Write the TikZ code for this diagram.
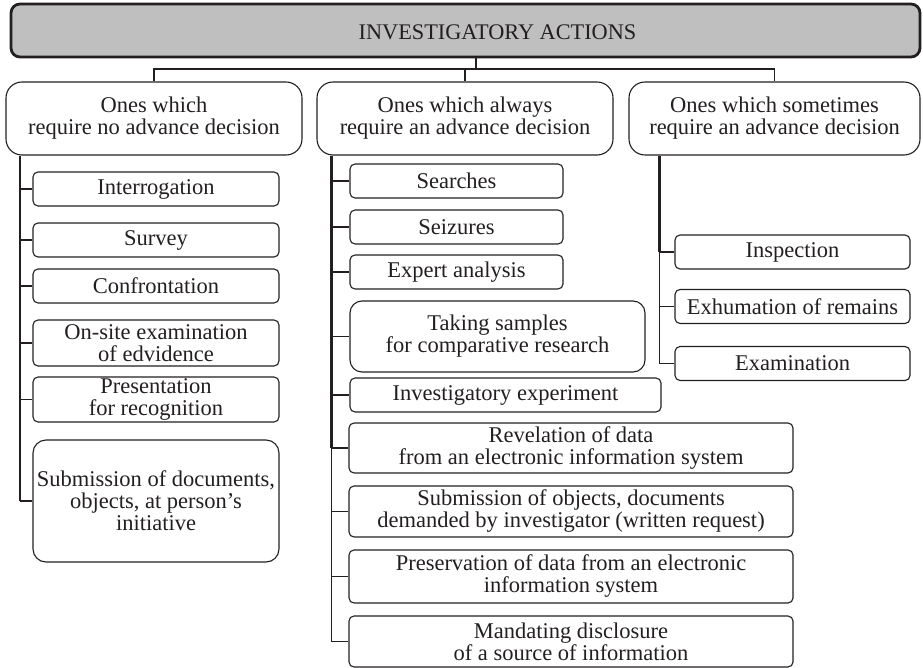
\documentclass[tikz,border=0pt]{standalone}
\usepackage{fontspec}
\setmainfont{Liberation Serif}
\definecolor{TitleGray}{RGB}{191, 191, 191}
\definecolor{InkDark}{RGB}{35, 31, 32}
\usepackage{tikz}

\begin{document}
\begin{tikzpicture}[
            x=1pt, y=-1pt,
            txt/.style={font=\fontsize{22.5}{22}\selectfont, text=InkDark, align=center, inner sep=1pt},
            action/.style={txt, draw=InkDark, line width=1.1pt, rounded corners=5pt, minimum height=34pt},
            bigaction/.style={action, rounded corners=13pt},
            groupbox/.style={txt, draw=InkDark, line width=1.1pt, rounded corners=16pt, minimum height=73pt},
            titlebox/.style={draw=InkDark, line width=2.8pt, fill=TitleGray, rounded corners=9pt, minimum width=909pt, minimum height=53pt},
            link/.style={draw=InkDark, line width=1.6pt},
            trunk/.style={draw=InkDark, line width=2.6pt},
            twig/.style={draw=InkDark, line width=1.1pt}
        ]
        \useasboundingbox (0,0) rectangle (923,668);

        % --- TITLE ---
        \node[titlebox] (title) at (465.5, 30.5) {};
        \node[txt, font=\fontsize{22.3}{22}\selectfont] (titleText) at (497.5, 32) {INVESTIGATORY ACTIONS};

        % --- GROUPS ---
        \node[groupbox, minimum width=296pt] (noDec) at (154, 118.5) {Ones which\\require no advance decision};
        \node[groupbox, minimum width=296pt] (alwaysDec) at (465, 118.5) {Ones which always\\require an advance decision};
        \node[groupbox, minimum width=291pt] (sometimesDec) at (774.5, 118.5) {Ones which sometimes\\require an advance decision};

        \coordinate (split) at (476, 69);
        \draw[link] (title.south -| split) -- (split);
        \draw[link] (noDec.north) |- (split) -| (sometimesDec.north);
        \draw[link] (alwaysDec.north |- split) -- (alwaysDec.north);

        % --- LEFT: no advance decision ---
        \node[action, minimum width=246pt] (interrogation) at (156, 189) {Interrogation};
        \node[action, minimum width=246pt] (survey) at (156, 240) {Survey};
        \node[action, minimum width=246pt] (confrontation) at (156, 286) {Confrontation};
        \node[action, minimum width=246pt, minimum height=46pt] (onsite) at (156, 343) {On-site examination\\of edvidence};
        \node[action, minimum width=246pt, minimum height=45pt] (presentation) at (156, 399.5) {Presentation\\for recognition};
        \node[bigaction, minimum width=246pt, minimum height=122pt] (submission) at (156, 501) {Submission of documents,\\objects, at person’s\\initiative};

        \coordinate (leftTrunk) at ([xshift=15pt]noDec.south west);
        \draw[trunk, line width=2pt] (leftTrunk) -- (leftTrunk |- submission.west);
        \foreach \n in {interrogation, survey, confrontation, onsite, presentation, submission}
            \draw[twig] (leftTrunk |- \n.west) -- (\n.west);

        % --- MIDDLE: always an advance decision ---
        \node[action, minimum width=213pt] (searches) at (456.5, 181) {Searches};
        \node[action, minimum width=213pt] (seizures) at (456.5, 227) {Seizures};
        \node[action, minimum width=213pt] (expert) at (456.5, 272) {Expert analysis};
        \node[bigaction, rounded corners=12pt, minimum width=295pt, minimum height=71pt] (samples) at (497.5, 336.5) {Taking samples\\for comparative research};
        \node[action, minimum width=311pt] (experiment) at (505.5, 395) {Investigatory experiment};
        \node[action, minimum width=444pt, minimum height=50pt] (revelation) at (571, 448) {Revelation of data\\from an electronic information system};
        \node[action, minimum width=444pt, minimum height=51pt] (demanded) at (571, 511.5) {Submission of objects, documents\\demanded by investigator (written request)};
        \node[action, minimum width=444pt, minimum height=53pt] (preservation) at (571, 576.5) {Preservation of data from an electronic\\information system};
        \node[action, minimum width=444pt, minimum height=51pt] (disclosure) at (571, 641.5) {Mandating disclosure\\of a source of information};

        \coordinate (midTrunk) at ([xshift=15pt]alwaysDec.south west);
        \draw[trunk] (midTrunk) -- (midTrunk |- revelation.west);
        \draw[twig] (midTrunk |- revelation.west) -- (midTrunk |- disclosure.west);
        \foreach \n in {searches, seizures, expert, samples, experiment, revelation, demanded, preservation, disclosure}
            \draw[twig] (midTrunk |- \n.west) -- (\n.west);

        % --- RIGHT: sometimes an advance decision ---
        \node[action, minimum width=235pt] (inspection) at (792.5, 252) {Inspection};
        \node[action, minimum width=235pt] (exhumation) at (792.5, 306.5) {Exhumation of remains};
        \node[action, minimum width=235pt] (examination) at (792.5, 363.5) {Examination};

        \coordinate (rightTrunk) at ([xshift=31pt]sometimesDec.south west);
        \draw[trunk] (rightTrunk) -- (rightTrunk |- inspection.west);
        \draw[twig] (rightTrunk |- inspection.west) -- (rightTrunk |- examination.west);
        \foreach \n in {inspection, exhumation, examination}
            \draw[twig] (rightTrunk |- \n.west) -- (\n.west);

        \end{tikzpicture}
\end{document}
